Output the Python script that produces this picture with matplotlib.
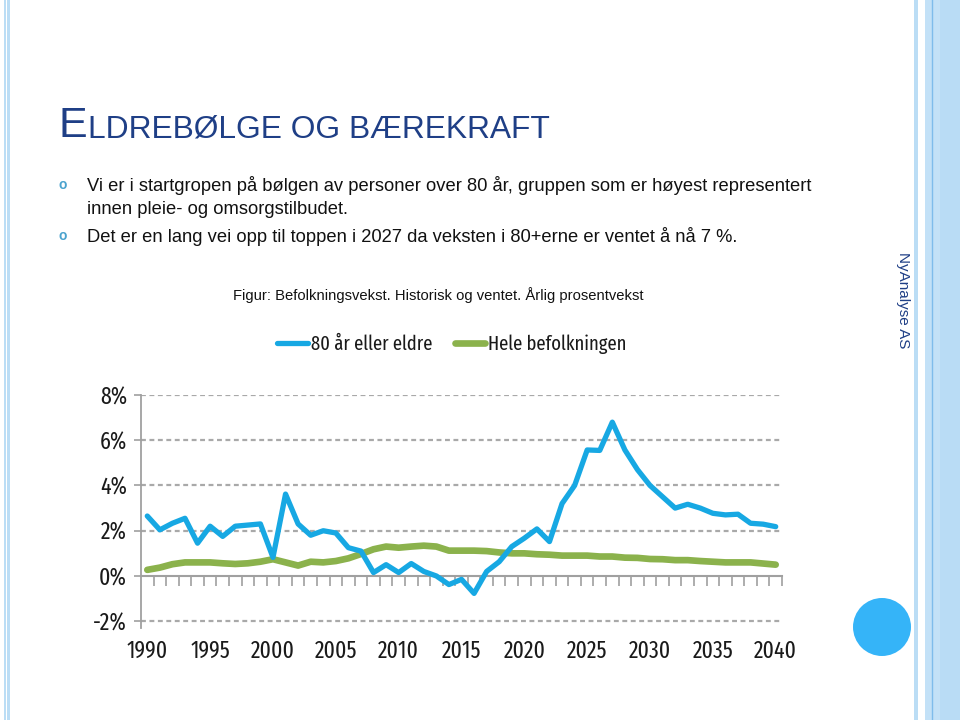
import matplotlib
matplotlib.use("Agg")
import matplotlib.pyplot as plt
from matplotlib.patches import Ellipse, Rectangle
from matplotlib.lines import Line2D
import numpy as np

# ---------------- data ----------------
years = list(range(1990, 2041))
age80_plus = [2.65, 2.04, 2.33, 2.55, 1.45, 2.20, 1.75, 2.20, 2.25, 2.30,
              0.82, 3.62, 2.30, 1.80, 2.00, 1.90, 1.25, 1.10, 0.15, 0.50,
              0.15, 0.55, 0.20, 0.00, -0.38, -0.15, -0.77, 0.20, 0.63, 1.30,
              1.67, 2.08, 1.52, 3.20, 4.00, 5.57, 5.55, 6.80, 5.57, 4.70,
              4.00, 3.50, 3.00, 3.17, 3.00, 2.77, 2.70, 2.73, 2.33, 2.29,
              2.18]
total_pop = [0.27, 0.37, 0.52, 0.60, 0.60, 0.60, 0.56, 0.53, 0.56, 0.63,
             0.74, 0.60, 0.46, 0.63, 0.60, 0.66, 0.78, 0.97, 1.18, 1.30,
             1.25, 1.30, 1.34, 1.30, 1.12, 1.12, 1.12, 1.10, 1.04, 1.00,
             1.00, 0.96, 0.94, 0.90, 0.90, 0.90, 0.86, 0.86, 0.81, 0.80,
             0.75, 0.74, 0.70, 0.70, 0.66, 0.63, 0.60, 0.60, 0.60, 0.55,
             0.50]
series_names = ["80 år eller eldre", "Hele befolkningen"]
year_ticks = [1990, 1995, 2000, 2005, 2010, 2015, 2020, 2025, 2030, 2035, 2040]
y_ticks = [-2, 0, 2, 4, 6, 8]
y_tick_labels = ["-2%", "0%", "2%", "4%", "6%", "8%"]

title_first = "E"
title_rest = "LDREBØLGE OG BÆREKRAFT"
bullet1_lines = ["Vi er i startgropen på bølgen av personer over 80 år, gruppen som er høyest representert",
                 "innen pleie- og omsorgstilbudet."]
bullet2_lines = ["Det er en lang vei opp til toppen i 2027 da veksten i 80+erne er ventet å nå 7 %."]
caption = "Figur: Befolkningsvekst. Historisk og ventet. Årlig prosentvekst"
side_text = "NyAnalyse AS"

# ---------------- styling ----------------
W, H = 960, 720
BLUE = "#17A8E3"
GREEN = "#8BB24C"
NAVY = "#1F3F86"
STRIPE = "#BBDDF5"
SANS = ["Liberation Sans", "DejaVu Sans"]
NARROW = ["Fira Sans Extra Condensed", "Roboto Condensed", "DejaVu Sans"]
NW = "normal"
NFS = 17
LFS = 14.5

fig = plt.figure(figsize=(W / 100, H / 100), dpi=100)
fig.patch.set_facecolor("white")


def fx(x):
    return x / W


def fy(y):
    return 1 - y / H


# decorative stripes
for (x0, w, c) in [(4, 1.5, STRIPE), (7, 3, STRIPE), (914, 4, STRIPE),
                   (925, 35, "#C3E1F7"), (940, 20, "#B9DCF5")]:
    fig.patches.append(Rectangle((fx(x0), 0), w / W, 1, transform=fig.transFigure,
                                 facecolor=c, edgecolor="none", zorder=0))
fig.lines.append(Line2D([fx(932), fx(932)], [0, 1], transform=fig.transFigure,
                        color="#7FBCEB", lw=1.0, zorder=1))
fig.patches.append(Ellipse((fx(882), fy(627)), 58 / W, 58 / H, transform=fig.transFigure,
                           facecolor="#35B4F8", edgecolor="none", zorder=1))

# title (small caps)
renderer = fig.canvas.get_renderer()
t1 = fig.text(fx(59), fy(137), title_first, fontsize=31, color=NAVY,
              family=SANS, va="baseline", ha="left")
bb = t1.get_window_extent(renderer)
fig.text(bb.x1 / W, fy(137), title_rest, fontsize=22.9, color=NAVY,
         family=SANS, va="baseline", ha="left")

# bullets
BFS = 13.2
for by in [190, 241]:
    fig.text(fx(63), fy(by - 1), "o", fontsize=10, color="#4BA3CE", family=SANS,
             ha="center", va="baseline", fontweight="bold")
for by, line in zip([191, 214], bullet1_lines):
    fig.text(fx(87), fy(by), line, fontsize=BFS, color="#111111", family=SANS,
             ha="left", va="baseline")
fig.text(fx(87), fy(242), bullet2_lines[0], fontsize=BFS, color="#111111",
         family=SANS, ha="left", va="baseline")

fig.text(fx(438), fy(300), caption, fontsize=10.6, color="#111111", family=SANS,
         ha="center", va="baseline")

fig.text(fx(903), fy(300), side_text, fontsize=11, color=NAVY, family=SANS,
         rotation=-90, ha="center", va="center")

# ---------------- chart ----------------
ax = fig.add_axes([fx(141), fy(628), (782 - 141) / W, (628 - 395) / H])
ax.set_facecolor("none")
ax.set_xlim(1989.5, 2040.5)
ax.set_ylim(-2.3, 8.0)

for v in [-2, 2, 4, 6, 8]:
    ax.axhline(v, color="#A9A9A9", lw=1.6, ls=(0, (2.2, 1.6)), zorder=1)

ax.plot(years, total_pop, color=GREEN, lw=4.8, solid_capstyle="round",
        solid_joinstyle="round", zorder=3, label=series_names[1])
ax.plot(years, age80_plus, color=BLUE, lw=3.8, solid_capstyle="round",
        solid_joinstyle="round", zorder=4, label=series_names[0])

for s in ["top", "right"]:
    ax.spines[s].set_visible(False)
ax.spines["left"].set_color("#A0A0A0")
ax.spines["left"].set_linewidth(1.3)
ax.spines["bottom"].set_position(("data", 0))
ax.spines["bottom"].set_color("#A0A0A0")
ax.spines["bottom"].set_linewidth(1.5)
ax.spines["bottom"].set_zorder(2)

ax.set_yticks(y_ticks)
ax.set_yticklabels(y_tick_labels, family=NARROW, fontsize=NFS, color="#1A1A1A",
                   fontweight=NW)
ax.tick_params(axis="y", length=5, width=1.2, color="#A0A0A0", pad=5)

ax.set_xticks(year_ticks)
ax.set_xticklabels([str(y) for y in year_ticks], family=NARROW, fontsize=NFS,
                   color="#1A1A1A", fontweight=NW)
ax.set_xticks(np.arange(1990.5, 2041, 1.0), minor=True)
ax.tick_params(axis="x", which="major", length=0, pad=46)
ax.tick_params(axis="x", which="minor", length=7, width=1.2, color="#A0A0A0",
               direction="out")

handles = [Line2D([], [], color=BLUE, lw=3.8, solid_capstyle="round"),
           Line2D([], [], color=GREEN, lw=4.8, solid_capstyle="round")]
fig.legend(handles, series_names, loc="center", bbox_to_anchor=(fx(452), fy(344)),
           ncol=2, frameon=False, prop={"family": NARROW, "size": LFS, "weight": NW},
           handlelength=1.5, handletextpad=0.15, columnspacing=1.15,
           labelcolor="#1A1A1A")

fig.savefig("out.png", dpi=100, facecolor="white")
